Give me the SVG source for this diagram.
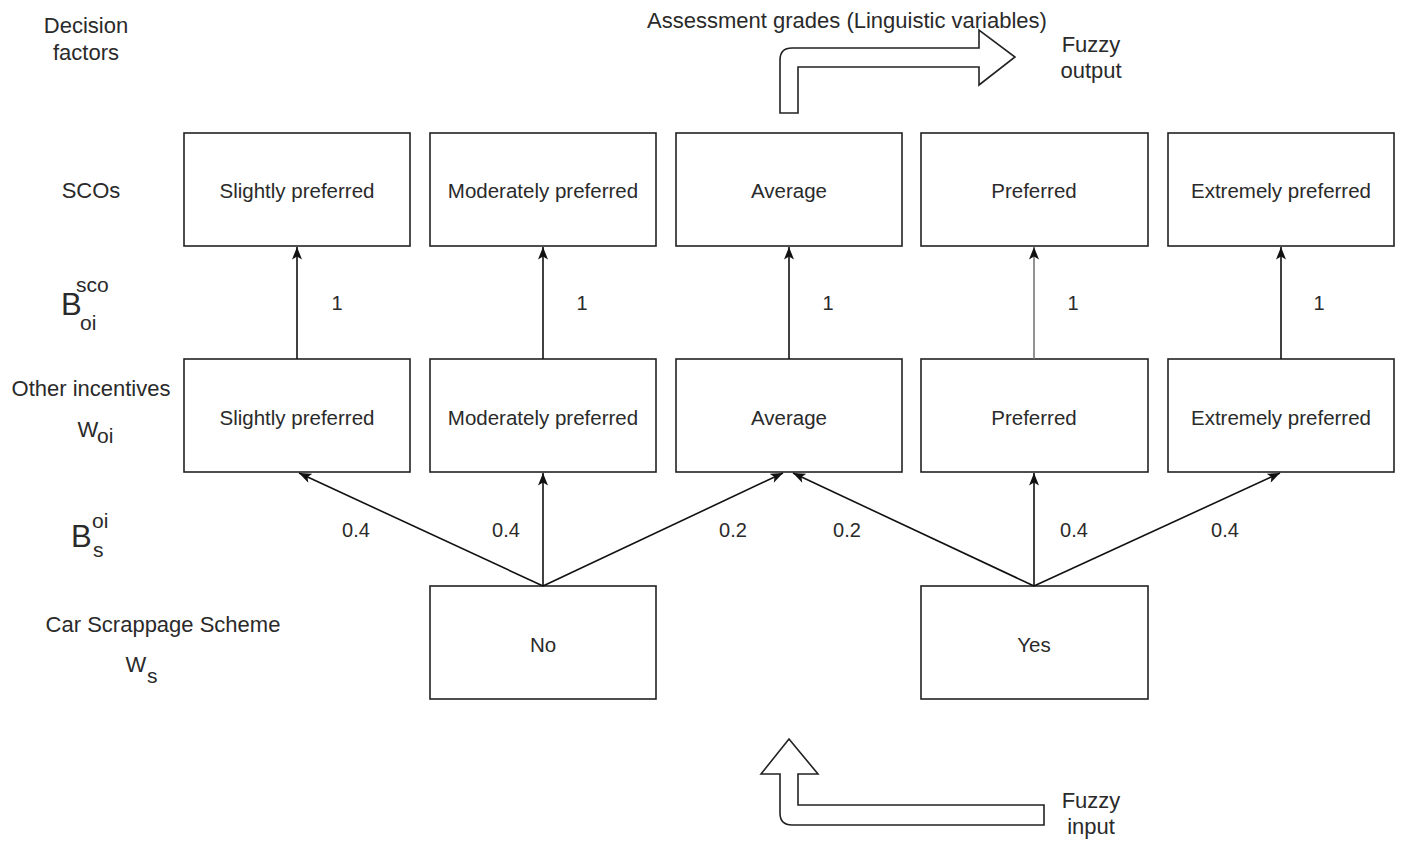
<svg xmlns="http://www.w3.org/2000/svg" width="1406" height="841" viewBox="0 0 1406 841">
<style>
.box{fill:#fff;stroke:#222;stroke-width:1.6}
.lbl{font-family:"Liberation Sans",Arial,sans-serif;font-size:20.5px;fill:#2a2a2a;text-anchor:middle}
.side{font-family:"Liberation Sans",Arial,sans-serif;font-size:22px;fill:#2a2a2a;text-anchor:middle}
.num{font-family:"Liberation Sans",Arial,sans-serif;font-size:20px;fill:#2a2a2a;text-anchor:middle}
.big{font-family:"Liberation Sans",Arial,sans-serif;font-size:31px;fill:#2a2a2a}
.sm{font-family:"Liberation Sans",Arial,sans-serif;font-size:21px;fill:#2a2a2a}
.con{fill:none;stroke:#111;stroke-width:1.6;marker-end:url(#ah)}
.blk{fill:#fff;stroke:#222;stroke-width:1.6;stroke-linejoin:miter}
</style>
<defs>
<marker id="ah" viewBox="0 0 10 8" refX="10" refY="4" markerWidth="13" markerHeight="10" markerUnits="userSpaceOnUse" orient="auto">
<path d="M0,0 L10,4 L0,8 L2.5,4 Z" fill="#111"/>
</marker>
</defs>
<rect width="1406" height="841" fill="#fff"/>

<g id="side-labels">
<text class="side" x="86" y="33">Decision</text>
<text class="side" x="86" y="60">factors</text>
<text class="side" x="91" y="198">SCOs</text>
<text class="big" x="61" y="315">B</text>
<text class="sm" x="76" y="292">sco</text>
<text class="sm" x="80" y="330">oi</text>
<text class="side" x="91" y="396">Other incentives</text>
<text class="side" x="88" y="437">W</text>
<text class="sm" x="97" y="443">oi</text>
<text class="big" x="71" y="547">B</text>
<text class="sm" x="92" y="528">oi</text>
<text class="sm" x="93" y="557">s</text>
<text class="side" x="163" y="632">Car Scrappage Scheme</text>
<text class="side" x="136" y="672">W</text>
<text class="sm" x="147" y="683">s</text>
<text class="side" x="847" y="28">Assessment grades (Linguistic variables)</text>
<text class="side" x="1091" y="52">Fuzzy</text>
<text class="side" x="1091" y="78">output</text>
<text class="side" x="1091" y="808">Fuzzy</text>
<text class="side" x="1091" y="834">input</text>
</g>

<g id="fuzzy-output-arrow">
<path class="blk" d="M780,113 L780,60 Q780,48 792,48 L979,48 L979,30 L1015,57 L979,85 L979,67 L798,67 L798,113 Z"/>
</g>
<g id="fuzzy-input-arrow">
<path class="blk" d="M789,739 L818,774 L798,774 L798,805 L1044,805 L1044,825 L792,825 Q780,825 780,813 L780,774 L761,774 Z"/>
</g>

<g id="sco-slightly"><rect class="box" x="184" y="133" width="226" height="113"/><text class="lbl" x="297" y="198">Slightly preferred</text></g>
<g id="sco-moderately"><rect class="box" x="430" y="133" width="226" height="113"/><text class="lbl" x="543" y="198">Moderately preferred</text></g>
<g id="sco-average"><rect class="box" x="676" y="133" width="226" height="113"/><text class="lbl" x="789" y="198">Average</text></g>
<g id="sco-preferred"><rect class="box" x="921" y="133" width="227" height="113"/><text class="lbl" x="1034" y="198">Preferred</text></g>
<g id="sco-extremely"><rect class="box" x="1168" y="133" width="226" height="113"/><text class="lbl" x="1281" y="198">Extremely preferred</text></g>

<g id="oi-slightly"><rect class="box" x="184" y="359" width="226" height="113"/><text class="lbl" x="297" y="425">Slightly preferred</text></g>
<g id="oi-moderately"><rect class="box" x="430" y="359" width="226" height="113"/><text class="lbl" x="543" y="425">Moderately preferred</text></g>
<g id="oi-average"><rect class="box" x="676" y="359" width="226" height="113"/><text class="lbl" x="789" y="425">Average</text></g>
<g id="oi-preferred"><rect class="box" x="921" y="359" width="227" height="113"/><text class="lbl" x="1034" y="425">Preferred</text></g>
<g id="oi-extremely"><rect class="box" x="1168" y="359" width="226" height="113"/><text class="lbl" x="1281" y="425">Extremely preferred</text></g>

<g id="s-no"><rect class="box" x="430" y="586" width="226" height="113"/><text class="lbl" x="543" y="652">No</text></g>
<g id="s-yes"><rect class="box" x="921" y="586" width="227" height="113"/><text class="lbl" x="1034" y="652">Yes</text></g>

<g id="connectors">
<path class="con" d="M297,359 L297,247"/>
<path class="con" d="M543,359 L543,247"/>
<path class="con" d="M789,359 L789,247"/>
<path class="con" d="M1034,359 L1034,247" style="stroke:#777"/>
<path class="con" d="M1281,359 L1281,247"/>
<path class="con" d="M543,586 L299,473"/>
<path class="con" d="M543,586 L543,473"/>
<path class="con" d="M543,586 L783,473"/>
<path class="con" d="M1034,586 L793,473"/>
<path class="con" d="M1034,586 L1034,473"/>
<path class="con" d="M1034,586 L1280,473"/>
</g>

<g id="weights">
<text class="num" x="337" y="310">1</text>
<text class="num" x="582" y="310">1</text>
<text class="num" x="828" y="310">1</text>
<text class="num" x="1073" y="310">1</text>
<text class="num" x="1319" y="310">1</text>
<text class="num" x="356" y="537">0.4</text>
<text class="num" x="506" y="537">0.4</text>
<text class="num" x="733" y="537">0.2</text>
<text class="num" x="847" y="537">0.2</text>
<text class="num" x="1074" y="537">0.4</text>
<text class="num" x="1225" y="537">0.4</text>
</g>
</svg>
